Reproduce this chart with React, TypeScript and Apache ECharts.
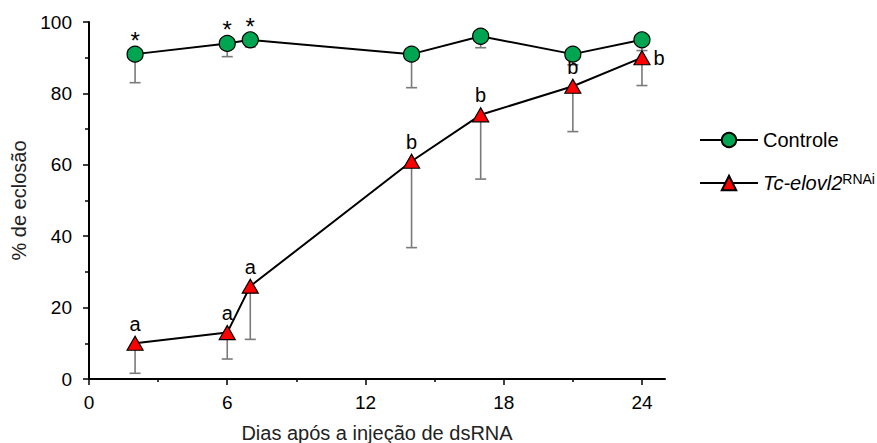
import React, { useEffect, useRef } from "react";
import * as echarts from "echarts";

const days = [2, 6, 7, 14, 17, 21, 24];
const controlMean = [91, 94, 95, 91, 96, 91, 95];
const controlLow = [83, 90.3, 93, 81.6, 92.8, 88, 92];
const controlLabels = ["*", "*", "*", "", "", "", ""];
const rnaiMean = [10, 13, 26, 61, 74, 82, 90];
const rnaiLow = [1.6, 5.6, 11.1, 36.8, 56, 69.3, 82.2];
const rnaiLabels = ["a", "a", "a", "b", "b", "b", "b"];
const xMajorTicks = [0, 6, 12, 18, 24];
const xMinorTicks = [3, 9, 15, 21];
const controlName = "Controle";
const rnaiName = "Tc-elovl2RNAi";

const FONT = "Liberation Sans, Arial, sans-serif";

function errRender(params: any, api: any) {
  const x = api.value(0);
  const y = api.value(1);
  const lo = api.value(2);
  const top = api.coord([x, y]);
  const bot = api.coord([x, lo]);
  const hw = 5.5;
  const style = { stroke: "#7a7a7a", lineWidth: 1.6 };
  return {
    type: "group",
    children: [
      { type: "line", shape: { x1: top[0], y1: top[1], x2: bot[0], y2: bot[1] }, style },
      { type: "line", shape: { x1: bot[0] - hw, y1: bot[1], x2: bot[0] + hw, y2: bot[1] }, style },
    ],
  };
}

export default function App() {
  const ref = useRef<HTMLDivElement>(null);
  useEffect(() => {
    document.body.style.margin = "0";
    const chart = echarts.init(ref.current!, null, { renderer: "svg" });
    const controlData = days.map((d, i) => ({
      value: [d, controlMean[i]],
      label: {
        show: controlLabels[i] !== "",
        formatter: controlLabels[i],
        position: "top",
        distance: -7,
        fontSize: 24,
        color: "#000",
        fontFamily: FONT,
      },
    }));
    const rnaiData = days.map((d, i) => ({
      value: [d, rnaiMean[i]],
      label: {
        show: true,
        formatter: rnaiLabels[i],
        position: i === days.length - 1 ? "right" : "top",
        distance: i === days.length - 1 ? 3 : 2,
        fontSize: 20,
        color: "#000",
        fontFamily: FONT,
      },
    }));
    chart.setOption({
      animation: false,
      textStyle: { fontFamily: FONT },
      grid: { left: 89, right: 212, top: 22, bottom: 64, outerBoundsMode: "none", containLabel: false },
      legend: {
        orient: "vertical",
        left: 699,
        top: 130,
        padding: 0,
        itemWidth: 58,
        itemHeight: 18,
        itemGap: 22,
        data: [controlName, rnaiName],
        formatter: (name: string) =>
          name === rnaiName ? "{it|Tc-elovl2}{sup|RNAi}" : name,
        textStyle: {
          fontSize: 20,
          color: "#000",
          fontFamily: FONT,
          rich: {
            it: { fontStyle: "italic", fontSize: 20, color: "#000", fontFamily: FONT },
            sup: { fontSize: 14, color: "#000", fontFamily: FONT, verticalAlign: "top", padding: [0, 0, 8, 0] },
          },
        },
      },
      xAxis: [
        {
          type: "value",
          min: 0,
          max: 25,
          name: "Dias após a injeção de dsRNA",
          nameLocation: "middle",
          nameGap: 44,
          nameTextStyle: { fontSize: 20, color: "#222", fontFamily: FONT },
          axisLine: { lineStyle: { color: "#000", width: 2 } },
          axisTick: { show: true, length: 6, customValues: xMajorTicks, lineStyle: { color: "#000", width: 1.5 } },
          axisLabel: { customValues: xMajorTicks, fontSize: 19, color: "#000", margin: 14, fontFamily: FONT },
          splitLine: { show: false },
        },
        {
          type: "value",
          min: 0,
          max: 25,
          position: "bottom",
          axisLine: { show: false },
          axisTick: { show: true, length: 3, customValues: xMinorTicks, lineStyle: { color: "#000", width: 1.5 } },
          axisLabel: { show: false },
          splitLine: { show: false },
        },
      ],
      yAxis: {
        type: "value",
        min: 0,
        max: 100,
        interval: 20,
        name: "% de eclosão",
        nameLocation: "middle",
        nameGap: 60,
        nameTextStyle: { fontSize: 20, color: "#222", fontFamily: FONT },
        axisLine: { show: true, lineStyle: { color: "#000", width: 2 } },
        axisTick: { show: true, length: 6, lineStyle: { color: "#000", width: 1.5 } },
        minorTick: { show: true, splitNumber: 2, length: 4, lineStyle: { color: "#000", width: 1.5 } },
        axisLabel: { fontSize: 19, color: "#000", margin: 17, fontFamily: FONT },
        splitLine: { show: false },
      },
      series: [
        {
          type: "custom",
          name: "errControl",
          renderItem: errRender,
          data: days.map((d, i) => [d, controlMean[i], controlLow[i]]),
          encode: { x: 0, y: 1 },
          z: 1,
          silent: true,
        },
        {
          type: "custom",
          name: "errRnai",
          renderItem: errRender,
          data: days.map((d, i) => [d, rnaiMean[i], rnaiLow[i]]),
          encode: { x: 0, y: 1 },
          z: 1,
          silent: true,
        },
        {
          type: "line",
          name: controlName,
          data: controlData,
          symbol: "circle",
          symbolSize: 16,
          lineStyle: { color: "#000", width: 2 },
          itemStyle: { color: "#00A551", borderColor: "#000", borderWidth: 1.2 },
          z: 3,
        },
        {
          type: "line",
          name: rnaiName,
          data: rnaiData,
          symbol: "triangle",
          symbolSize: [16, 14],
          lineStyle: { color: "#000", width: 2 },
          itemStyle: { color: "#FF0000", borderColor: "#000", borderWidth: 1.2 },
          z: 2,
        },
      ],
    });
    return () => chart.dispose();
  }, []);
  return <div ref={ref} style={{ width: 877, height: 443 }} />;
}
